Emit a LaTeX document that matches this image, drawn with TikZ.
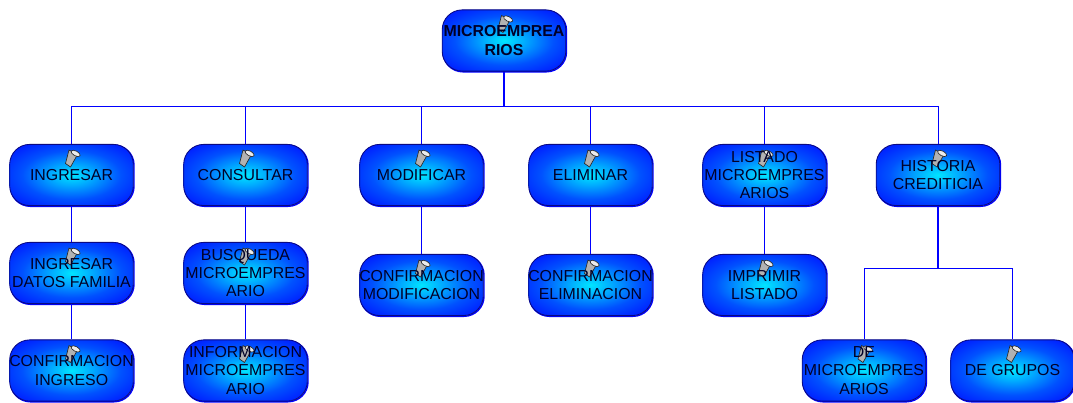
\documentclass[tikz,border=0pt]{standalone}
\usepackage{fontspec}
\setmainfont{Liberation Sans}
\definecolor{boxedge}{RGB}{10,10,130}
\definecolor{boxtext}{RGB}{0,0,40}
\pgfdeclareradialshading{boxglow}{\pgfpointorigin}{rgb(0bp)=(0,0.9,1);
  rgb(8bp)=(0,0.68,1);rgb(20bp)=(0,0.32,1);rgb(36bp)=(0,0.04,1);rgb(50bp)=(0,0,1);rgb(100bp)=(0,0,1)}
\tikzstyle{icon}=[draw=black!85,line width=0.45pt,fill=black!30,line join=round]
\tikzstyle{box}=[rectangle,rounded corners=0.5cm,draw=boxedge,line width=0.6pt,
  preaction={draw=blue,line width=1pt,transform canvas={xshift=0.5pt,yshift=-0.5pt}},
  shading=boxglow,minimum width=3.09cm,minimum height=1.53cm,inner sep=0pt]
\tikzstyle{boxlabel}=[inner sep=0pt,align=center,text=boxtext,font=\fontsize{11.3}{13.1}\selectfont]
\tikzstyle{link} = [draw=blue,line width=0.7pt]
\tikzstyle{stem} = [draw=blue,line width=1.3pt]
\tikzset{pics/cup/.style={code={
  \path[icon] (-2.5,-8) -- (6,-3.5) -- (-1,9) -- (-6,5.5) -- cycle;
  \path[icon,fill=black!8,rotate=-28] (1.5,-6) ++(-5,0) arc[start angle=180,end angle=-180,x radius=5,y radius=2.4];
}}}

\begin{document}
\begin{tikzpicture}[x=0.025cm,y=-0.025cm]
\useasboundingbox (0,0) rectangle (1073,402);

% First we draw the boxes
\foreach \pos / \name / \txt in {{(504,40.5)/micro/\bfseries MICROEMPREA\\\bfseries RIOS},
{(71.5,175)/ingresar/INGRESAR},
{(245.5,175)/consultar/CONSULTAR},
{(421.5,175)/modificar/MODIFICAR},
{(590.5,175)/eliminar/ELIMINAR},
{(764.5,175)/listado/LISTADO\\MICROEMPRES\\ARIOS},
{(938,175)/historia/HISTORIA\\CREDITICIA},
{(71.5,273)/datos/INGRESAR\\DATOS FAMILIA},
{(245.5,273)/busqueda/BUSQUEDA\\MICROEMPRES\\ARIO},
{(421.5,285)/confmod/CONFIRMACION\\MODIFICACION},
{(590.5,285)/confelim/CONFIRMACION\\ELIMINACION},
{(764.5,285)/imprimir/IMPRIMIR\\LISTADO},
{(71.5,370.5)/confing/CONFIRMACION\\INGRESO},
{(245.5,370.5)/informacion/INFORMACION\\MICROEMPRES\\ARIO},
{(864,370.5)/demicro/DE\\MICROEMPRES\\ARIOS},
{(1012.5,370.5)/degrupos/DE GRUPOS}}
{
\node[box] (\name) at \pos {};
\pic at ([yshift=0.425cm]\name.center) {cup};
\node[boxlabel] (\name-label) at (\name.center) {\txt};
}

% Then the lines between them
\coordinate (bus) at (504,106);
\coordinate (subbus) at (938,268);
\path[stem] (micro) -- (bus);
\path[stem] (historia) -- (subbus);
\foreach \dest in {ingresar,consultar,modificar,eliminar,listado,historia}
\path[link] (bus) -| (\dest.north);
\foreach \source / \dest in {ingresar/datos,datos/confing,consultar/busqueda,busqueda/informacion,modificar/confmod,eliminar/confelim,listado/imprimir}
\path[link] (\source) -- (\dest);
\foreach \dest in {demicro,degrupos}
\path[link] (subbus) -| (\dest.north);

\end{tikzpicture}
\end{document}
